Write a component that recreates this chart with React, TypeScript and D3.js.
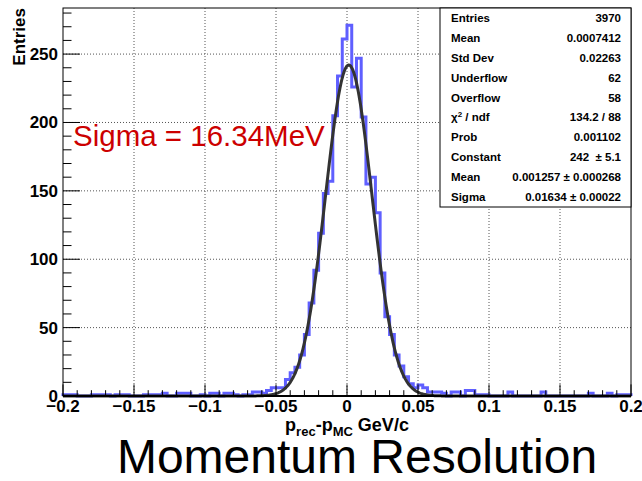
import React from "react";
import * as d3 from "d3";

// ---- data ----
const X_MIN = -0.2;
const X_MAX = 0.2;
const N_BINS = 120;
const counts = [
  1, 1, 1, 0, 0, 0, 1, 1, 1, 1,
  0, 1, 1, 1, 0, 0, 0, 1, 1, 1,
  1, 2, 0, 0, 2, 2, 2, 0, 0, 1,
  0, 2, 2, 0, 2, 2, 1, 0, 1, 1,
  3, 3, 2, 4, 6, 6, 6, 12, 17, 21,
  30, 45, 68, 92, 119, 148, 157, 205, 234, 261,
  271, 226, 247, 204, 155, 160, 134, 90, 58, 45,
  30, 22, 14, 9, 6, 8, 6, 3, 3, 3,
  2, 0, 3, 3, 0, 4, 4, 1, 1, 1,
  0, 0, 0, 0, 3, 0, 0, 0, 0, 0,
  0, 3, 0, 0, 0, 0, 0, 0, 0, 0,
  0, 2, 0, 0, 0, 2, 0, 1, 1, 1,
];
const fitConstant = 242;
const fitMean = 0.001257;
const fitSigma = 0.01634;

const xMajorTicks = [-0.2, -0.15, -0.1, -0.05, 0, 0.05, 0.1, 0.15, 0.2];
const xTickLabels = ["\u22120.2", "\u22120.15", "\u22120.1", "\u22120.05", "0", "0.05", "0.1", "0.15", "0.2"];
const yMajorTicks = [0, 50, 100, 150, 200, 250];
const yTickLabels = ["0", "50", "100", "150", "200", "250"];

const statLabels = ["Entries", "Mean", "Std Dev", "Underflow", "Overflow", "CHI", "Prob", "Constant", "Mean", "Sigma"];
const statValues = ["3970", "0.0007412", "0.02263", "62", "58", "134.2 / 88", "0.001102", "242 \u00a0\u00b1 5.1", "0.001257 \u00b1 0.000268", "0.01634 \u00b1 0.00022"];

// ---- layout ----
const W = 642, H = 481;
const L = 63, R = 631, T = 8, B = 396;
const Y_MAX = 283.7;
const FONT = "'Liberation Sans', Arial, Helvetica, sans-serif";

export default function App() {
  const x = d3.scaleLinear().domain([X_MIN, X_MAX]).range([L, R]);
  const y = d3.scaleLinear().domain([0, Y_MAX]).range([B, T]);
  const bw = (X_MAX - X_MIN) / N_BINS;

  const histPts: [number, number][] = [];
  counts.forEach((c, i) => {
    histPts.push([X_MIN + i * bw, c]);
    histPts.push([X_MIN + (i + 1) * bw, c]);
  });
  const histPath = d3.line<[number, number]>().x((d) => x(d[0])).y((d) => y(d[1]))(
    [[X_MIN, 0] as [number, number], ...histPts, [X_MAX, 0] as [number, number]]
  );

  const fitXs = d3.range(0, 801).map((i) => X_MIN + (i * (X_MAX - X_MIN)) / 800);
  const fitPath = d3
    .line<number>()
    .x((v) => x(v))
    .y((v) => y(fitConstant * Math.exp(-0.5 * Math.pow((v - fitMean) / fitSigma, 2))))(fitXs);

  const xMinor = d3.range(0, 41).map((i) => X_MIN + i * 0.01);
  const yMinor = d3.range(0, 29).map((i) => i * 10);

  const statsL = 440, statsT = T, statsR = R, statsB = 207;
  const rowH = (statsB - statsT) / statLabels.length;

  return (
    <svg width={W} height={H} style={{ position: "absolute", left: 0, top: 0, background: "#fff" }} fontFamily={FONT}>
      <rect x={0} y={0} width={W} height={H} fill="#fff" />
      {/* grid */}
      {xMajorTicks.slice(1, -1).map((t) => (
        <line key={"gx" + t} x1={x(t)} x2={x(t)} y1={T} y2={B} stroke="#555" strokeWidth={1} strokeDasharray="1 2" />
      ))}
      {yMajorTicks.slice(1).map((t) => (
        <line key={"gy" + t} x1={L} x2={R} y1={y(t)} y2={y(t)} stroke="#555" strokeWidth={1} strokeDasharray="1 2" />
      ))}
      {/* histogram */}
      <path d={histPath || ""} fill="none" stroke="#5f5fff" strokeWidth={3} />
      {/* fit */}
      <path d={fitPath || ""} fill="none" stroke="#333" strokeWidth={3} strokeLinejoin="round" />
      {/* frame */}
      <rect x={L} y={T} width={R - L} height={B - T} fill="none" stroke="#000" strokeWidth={1} />
      <line x1={L} x2={R} y1={B} y2={B} stroke="#000" strokeWidth={2} />
      {/* x ticks */}
      {xMinor.map((t, i) => {
        const major = i % 5 === 0;
        return <line key={"xt" + i} x1={x(t)} x2={x(t)} y1={B} y2={B - (major ? 11.6 : 5.8)} stroke="#000" strokeWidth={1} />;
      })}
      {/* y ticks */}
      {yMinor.map((t, i) => {
        const major = i % 5 === 0;
        return <line key={"yt" + i} x1={L} x2={L + (major ? 17 : 8.5)} y1={y(t)} y2={y(t)} stroke="#000" strokeWidth={1} />;
      })}
      {/* tick labels */}
      {xMajorTicks.map((t, i) => (
        <text key={"xl" + i} x={x(t)} y={412} textAnchor="middle" fontSize={17} fontWeight="bold">
          {xTickLabels[i]}
        </text>
      ))}
      {yMajorTicks.map((t, i) => (
        <text key={"yl" + i} x={58} y={y(t) + 6} textAnchor="end" fontSize={17} fontWeight="bold">
          {yTickLabels[i]}
        </text>
      ))}
      {/* axis titles */}
      <text transform={`translate(25,${T}) rotate(-90)`} textAnchor="end" fontSize={17} fontWeight="bold">
        Entries
      </text>
      <text x={347} y={431} textAnchor="middle" fontSize={18} fontWeight="bold">
        <tspan>p</tspan>
        <tspan fontSize={13} dy={5}>rec</tspan>
        <tspan dy={-5}>-p</tspan>
        <tspan fontSize={13} dy={5}>MC</tspan>
        <tspan dy={-5}> GeV/c</tspan>
      </text>
      {/* annotation */}
      <text x={73} y={146} fontSize={29.5} fill="#cc0000">
        Sigma = 16.34MeV
      </text>
      <text x={357} y={473} textAnchor="middle" fontSize={48} fill="#000">
        Momentum Resolution
      </text>
      {/* stats box */}
      <rect x={statsL} y={statsT} width={statsR - statsL} height={statsB - statsT} fill="#fff" stroke="#000" strokeWidth={1} />
      {statLabels.map((lab, i) => {
        const yy = statsT + rowH * (i + 0.5) + 4;
        return (
          <g key={"st" + i}>
            <text x={451} y={yy} fontSize={11.5} fontWeight="bold">
              {lab === "CHI" ? (
                <>
                  <tspan>{"\u03c7"}</tspan>
                  <tspan fontSize={8} dy={-4}>2</tspan>
                  <tspan dy={4}>{" / ndf"}</tspan>
                </>
              ) : (
                lab
              )}
            </text>
            <text x={621} y={yy} fontSize={11.5} fontWeight="bold" textAnchor="end">
              {statValues[i]}
            </text>
          </g>
        );
      })}
    </svg>
  );
}
